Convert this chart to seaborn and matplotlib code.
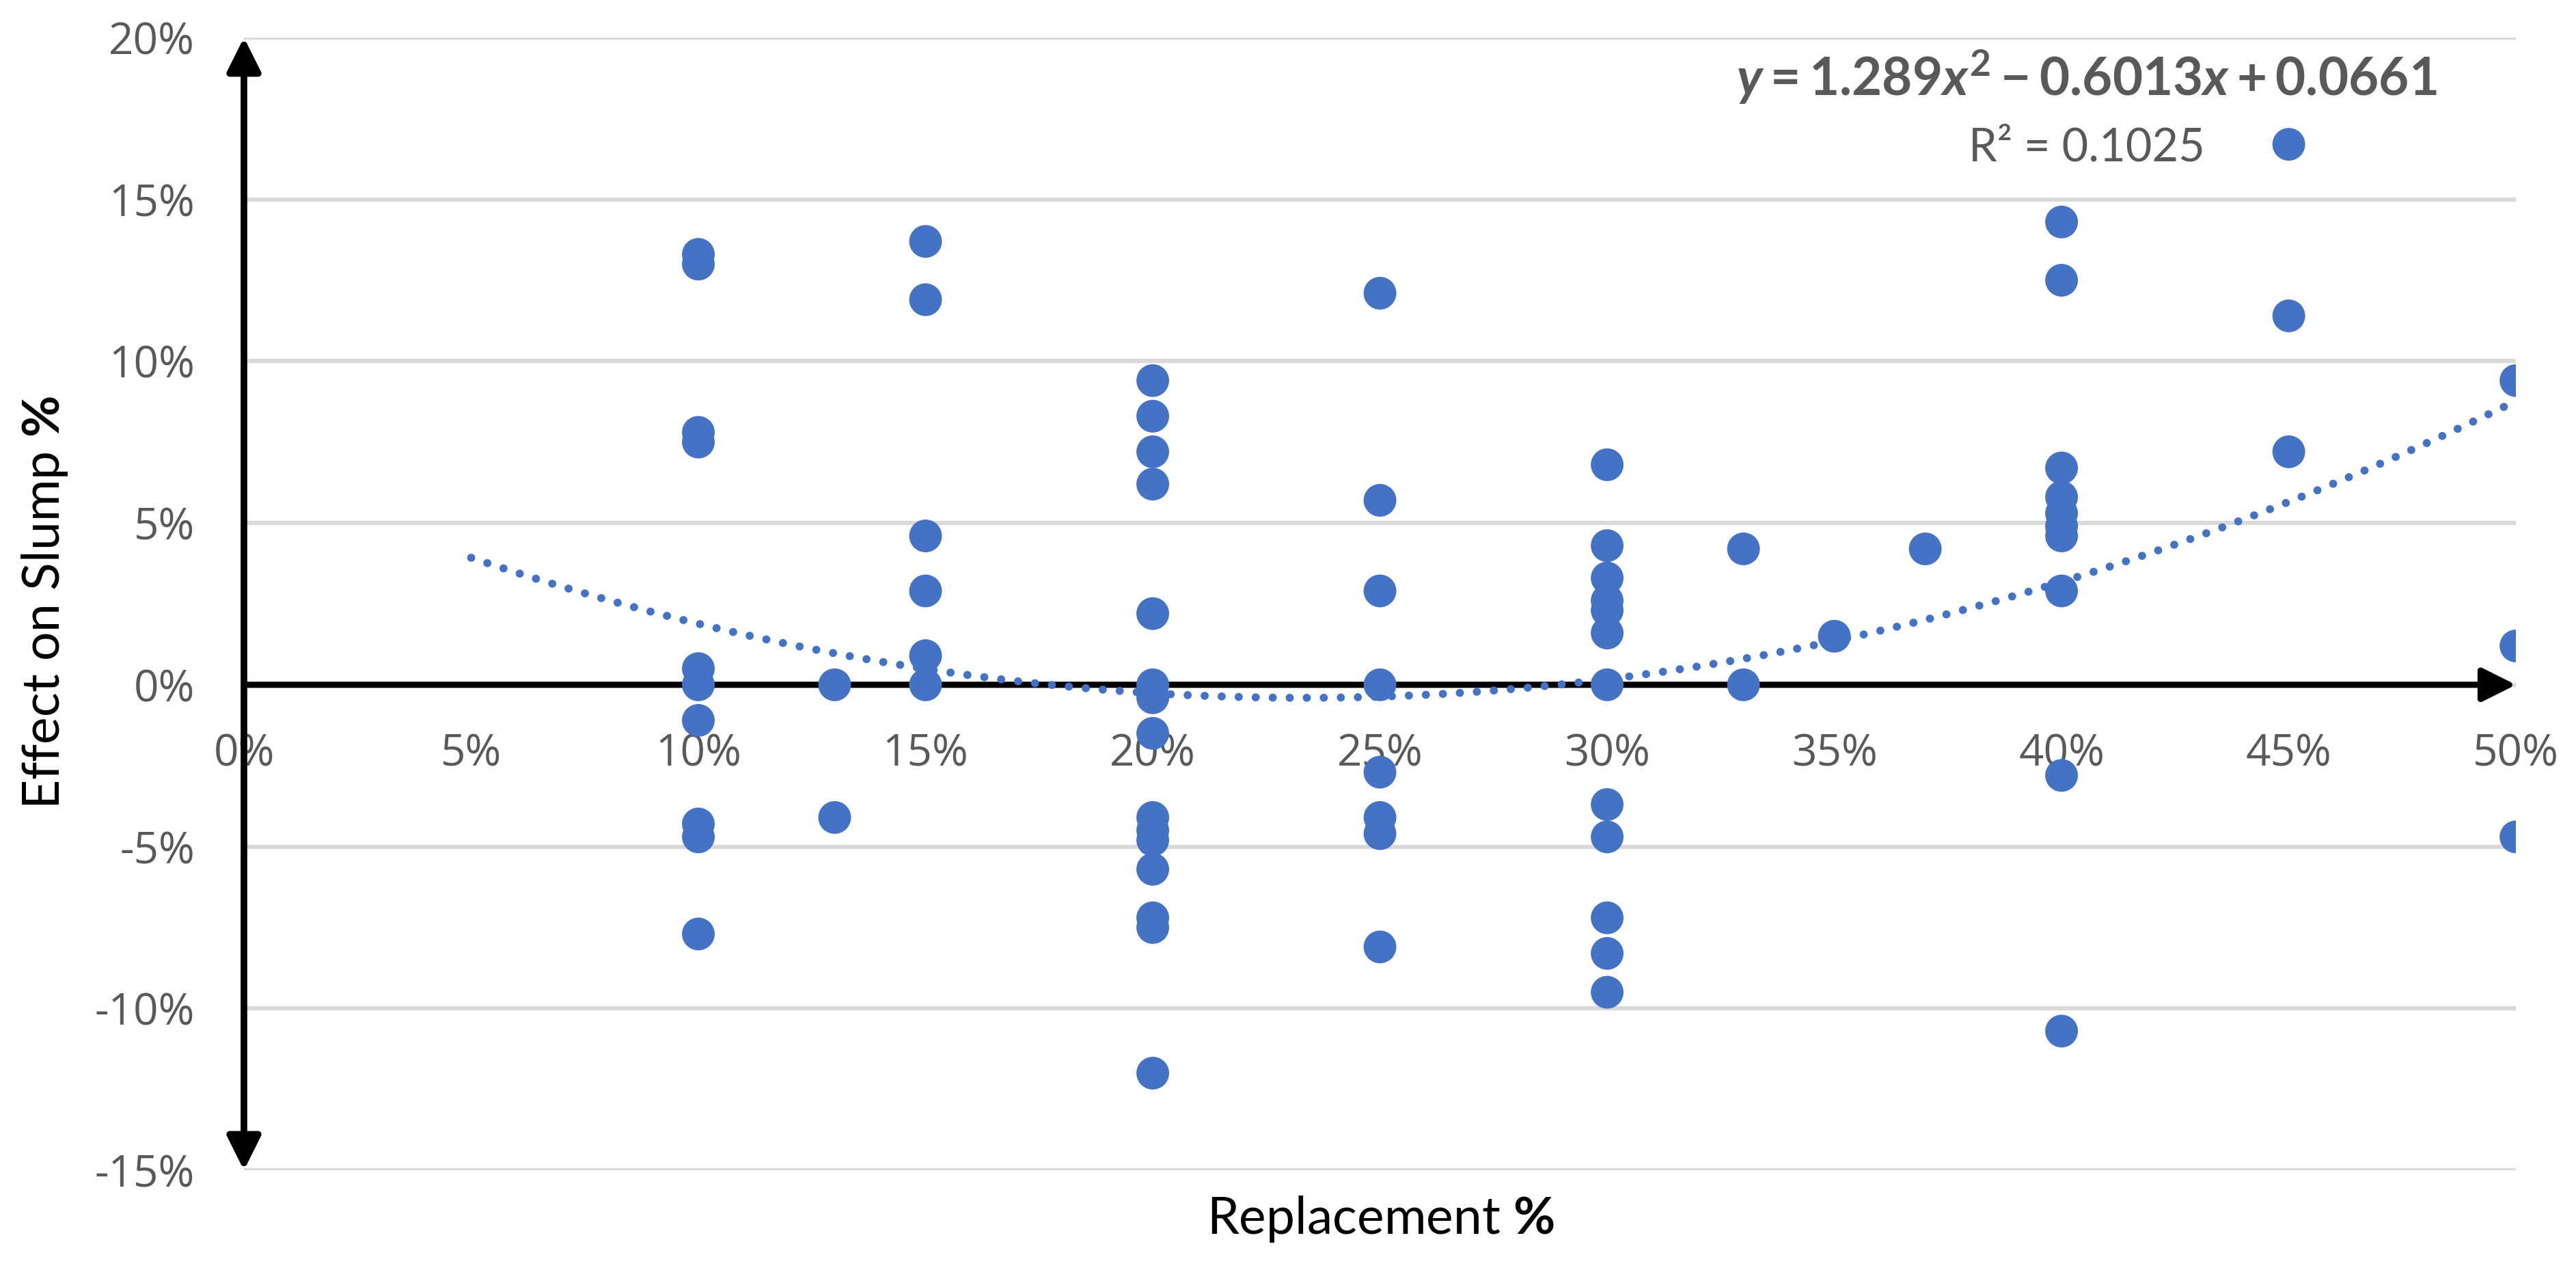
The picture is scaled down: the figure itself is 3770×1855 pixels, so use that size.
import numpy as np
import pandas as pd
import seaborn as sns
import matplotlib.pyplot as plt
from matplotlib.ticker import FixedLocator, FuncFormatter

# replacement level (fraction) and effect on slump (fraction)
replacement = [0.10] * 10 + [0.13] * 2 + [0.15] * 6 + [0.20] * 15 + [0.25] * 8 \
    + [0.30] * 12 + [0.33] * 2 + [0.35] + [0.37] + [0.40] * 10 + [0.45] * 3 + [0.50] * 3
slump_effect = [
    0.133, 0.130, 0.078, 0.075, 0.005, 0.000, -0.011, -0.043, -0.047, -0.077,   # 10%
    0.000, -0.041,                                                               # 13%
    0.137, 0.119, 0.046, 0.029, 0.009, 0.000,                                    # 15%
    0.094, 0.083, 0.072, 0.062, 0.022, 0.000, -0.004, -0.015, -0.041, -0.045,
    -0.048, -0.057, -0.072, -0.075, -0.120,                                      # 20%
    0.121, 0.057, 0.029, 0.000, -0.027, -0.041, -0.046, -0.081,                  # 25%
    0.068, 0.043, 0.033, 0.026, 0.023, 0.016, 0.000, -0.037, -0.047, -0.072,
    -0.083, -0.095,                                                              # 30%
    0.042, 0.000,                                                                # 33%
    0.015,                                                                       # 35%
    0.042,                                                                       # 37%
    0.143, 0.125, 0.067, 0.058, 0.053, 0.049, 0.046, 0.029, -0.028, -0.107,      # 40%
    0.167, 0.114, 0.072,                                                         # 45%
    0.094, 0.012, -0.047,                                                        # 50%
]

# Excel polynomial trendline (order 2) as printed on the chart
trend_coef = [1.289, -0.6013, 0.0661]
trend_span = (0.05, 0.50)
r_squared = 0.1025

x_ticks = [0.00, 0.05, 0.10, 0.15, 0.20, 0.25, 0.30, 0.35, 0.40, 0.45, 0.50]
y_ticks = [-0.15, -0.10, -0.05, 0.00, 0.05, 0.10, 0.15, 0.20]

df = pd.DataFrame({"replacement": replacement, "slump": slump_effect})

BLUE = "#4472C4"
GREY = "#595959"

sns.set_theme(style="white")
plt.rcParams["font.family"] = ["Lato", "DejaVu Sans"]
plt.rcParams.update({
    "axes.unicode_minus": False,
    "mathtext.fontset": "custom",
    "mathtext.rm": "Lato:bold",
    "mathtext.it": "Lato:italic:bold",
    "mathtext.bf": "Lato:bold",
})

fig = plt.figure(figsize=(37.7, 18.55), dpi=100)
ax = fig.add_axes([0.0947, 0.0771, 0.8820, 0.8933])

# trendline first, then the points on top
tx = np.linspace(trend_span[0], trend_span[1], 300)
ty = np.polyval(trend_coef, tx)
sns.lineplot(x=tx, y=ty, ax=ax, color=BLUE, lw=8.5, linestyle=(0, (0.01, 2.1)),
             dash_capstyle="round", estimator=None, legend=False, zorder=3)

sns.scatterplot(data=df, x="replacement", y="slump", ax=ax, s=1190, color=BLUE,
                linewidth=0, edgecolor="none", legend=False, zorder=4)

ax.set_xlim(0, 0.5)
ax.set_ylim(-0.15, 0.20)
ax.xaxis.set_major_locator(FixedLocator(x_ticks))
ax.yaxis.set_major_locator(FixedLocator(y_ticks))
pct = FuncFormatter(lambda v, pos: f"{int(round(v * 100))}%")
ax.xaxis.set_major_formatter(pct)
ax.yaxis.set_major_formatter(pct)
ax.set_xlabel("")
ax.set_ylabel("")

# x tick labels sit under the zero line, like Excel
ax.spines["bottom"].set_position(("data", 0))
for s in ax.spines.values():
    s.set_visible(False)

ax.grid(axis="y", color="#D9D9D9", lw=4.5)
ax.grid(axis="x", visible=False)
ax.tick_params(length=0, labelsize=46, labelcolor=GREY, labelfontfamily="Open Sans")
ax.tick_params(axis="x", pad=50)
ax.tick_params(axis="y", pad=52)

# axis lines with arrow heads
head = "head_length=0.6,head_width=0.3"
ax.annotate("", xy=(0.5, 0), xytext=(0, 0), annotation_clip=False, zorder=2,
            arrowprops=dict(arrowstyle="-|>," + head, mutation_scale=50, lw=6.5,
                            color="black", shrinkA=0, shrinkB=0, clip_on=False))
ax.annotate("", xy=(0, 0.20), xytext=(0, -0.15), annotation_clip=False, zorder=2,
            arrowprops=dict(arrowstyle="<|-|>," + head, mutation_scale=50, lw=7,
                            color="black", shrinkA=0, shrinkB=0, clip_on=False))

# trendline label
fig.text(0.8101, 0.9245, r"$y = 1.289x^{2} - 0.6013x + 0.0661$", ha="center",
         va="baseline", fontsize=55, color=GREY)
fig.text(0.8101, 0.8733, f"R\u00b2 = {r_squared}", ha="center", va="baseline",
         fontsize=48, color=GREY)

# axis titles
fig.text(0.5358, 0.0270, r"Replacement $\mathbf{\%}$", ha="center", va="baseline",
         fontsize=54, color="black")
fig.text(0.0175, 0.5245, r"Effect on Slump $\mathbf{\%}$", ha="center", va="center",
         rotation=90, fontsize=54, color="black")

fig.savefig("out.png", dpi=100)
